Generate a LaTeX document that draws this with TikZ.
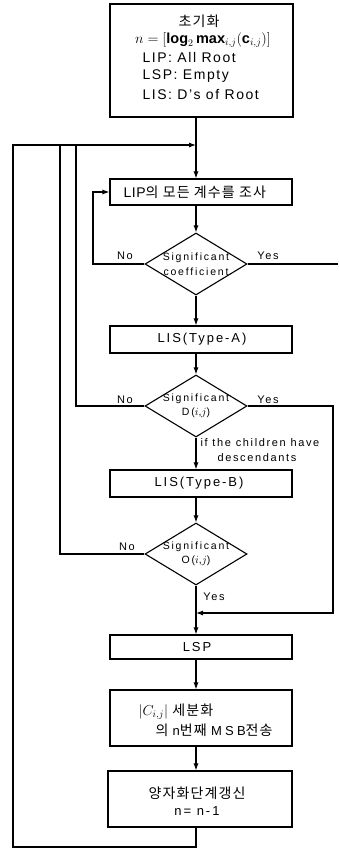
\documentclass[tikz,border=0pt]{standalone}
\usepackage{fontspec}
\setmainfont{Liberation Sans}[LetterSpace=15]
\newfontfamily\kr{Noto Sans CJK KR}[LetterSpace=8]
\usetikzlibrary{shapes.geometric,arrows.meta}
\begin{document}
\begin{tikzpicture}[x=1pt,y=-1pt,line width=1.1pt,
  box/.style={draw,rectangle,minimum width=182pt,inner sep=0pt},
  dia/.style={draw,diamond,minimum width=102pt,minimum height=62pt,inner sep=0pt},
  arr/.style={-{Latex[length=7pt,width=5pt]}},
  txt/.style={inner sep=0pt,font=\fontsize{13}{15}\selectfont},
  ttxt/.style={inner sep=0pt,font=\fontsize{14}{16}\selectfont\addfontfeature{LetterSpace=11}},
  ktxt/.style={inner sep=0pt,font=\fontsize{14}{16}\selectfont\kr},
  dtxt/.style={inner sep=0pt,align=center,font=\fontsize{10.5}{14.5}\selectfont\addfontfeature{LetterSpace=17}},
  lbl/.style={inner sep=0pt,font=\fontsize{11}{13}\selectfont}]
\useasboundingbox (0,0) rectangle (338,850);
\coordinate (sp) at (196,0);
% boxes
\node[box,minimum width=183pt,minimum height=113pt] (init) at (201.5,60.5) {};
\node[ktxt] (t1) at (199,21) {초기화};
\node[inner sep=0pt,font=\fontsize{14.5}{16}\selectfont] (t2) at (203,40) {$n=[\mathbf{log}_2\,\mathbf{max}_{i,j}(\mathbf{c}_{i,j})]$};
\node[ttxt,anchor=west] (t3) at (142,57) {LIP: All Root};
\node[ttxt,anchor=west] (t4) at (142,76) {LSP: Empty};
\node[ttxt,anchor=west] (t5) at (142,95) {LIS: D's of Root};
\node[box,minimum height=26pt] (lip) at (201,192) {};
\node[anchor=west,inner sep=0pt,font=\fontsize{14}{16}\selectfont\addfontfeature{LetterSpace=4}] (t6) at (123,192) {LIP{\kr 의 모든 계수를 조사}};
\node[dia] (d1) at (196,264) {};
\node[dtxt] (t7) at (d1) {Significant\\coefficient};
\node[box,minimum height=27pt] (lisa) at (201,339.5) {};
\node[txt] (t8) at (202,339.5) {LIS(Type-A)};
\node[dia] (d2) at (196,406) {};
\node[dtxt] (t9) at (d2) {Significant\\D($i$,$j$)};
\node[box,minimum height=27pt] (lisb) at (201,483.5) {};
\node[txt] (t10) at (199,483.5) {LIS(Type-B)};
\node[dia] (d3) at (196,554) {};
\node[dtxt] (t11) at (d3) {Significant\\O($i$,$j$)};
\node[box,minimum height=24pt] (lsp) at (201,647) {};
\node[txt] (t12) at (197,647) {LSP};
\node[box,minimum height=56pt] (msb) at (201,718) {};
\node[ktxt,anchor=west] (t13) at (138,712) {$|C_{i,j}|$ 세분화};
\node[ktxt,anchor=west] (t14) at (155,730) {의 {\rmfamily\fontsize{13}{15}\selectfont n}번째 {\rmfamily\fontsize{13}{15}\selectfont\addfontfeature{LetterSpace=25}MSB}전송};
\node[box,minimum width=184pt,minimum height=56pt] (upd) at (200,799) {};
\node[ktxt] (t15) at (197,793) {양자화단계갱신};
\node[txt] (t16) at (197,811) {n= n-1};
% labels
\node[lbl] (n1) at (125,256) {No};
\node[lbl] (y1) at (268,256) {Yes};
\node[lbl] (n2) at (125,400) {No};
\node[lbl] (y2) at (268,400) {Yes};
\node[lbl] (c1) at (260,443) {if the children have};
\node[lbl] (c2) at (257,458) {descendants};
\node[lbl] (n3) at (127,547) {No};
\node[lbl] (y3) at (214,597) {Yes};
% connectors
\coordinate (j1) at (196,145);
\coordinate (j2) at (196,613);
\draw[arr] (init.south -| sp) -- (lip.north -| sp);
\draw[arr] (lip.south -| sp) -- (d1.north);
\draw[arr] (d1.south) -- (lisa.north -| sp);
\draw[arr] (lisa.south -| sp) -- (d2.north);
\draw[arr] (d2.south) -- (lisb.north -| sp);
\draw[arr] (lisb.south -| sp) -- (d3.north);
\draw[arr] (d3.south) -- (lsp.north -| sp);
\draw[arr] (lsp.south -| sp) -- (msb.north -| sp);
\draw[arr] (msb.south -| sp) -- (upd.north -| sp);
\draw[arr] (upd.south -| sp) -- (196,847) -- (13,847) -- (13,145) -- (j1);
\draw[arr] (d1.west) -| (93,192) -- (lip.west);
\draw (d1.east) -- (338,264);
\draw (d2.west) -| (76,145);
\draw (d3.west) -| (60,145);
\draw[arr] (d2.east) -- (333,406) -- (333,613) -- (j2);
\end{tikzpicture}
\end{document}
